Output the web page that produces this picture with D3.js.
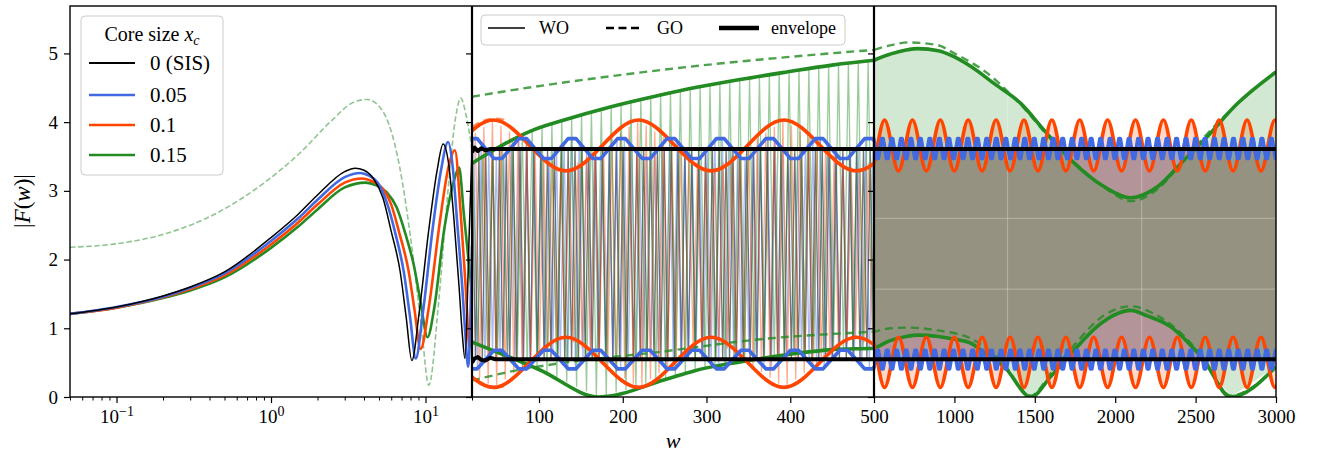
<!DOCTYPE html>
<html><head><meta charset="utf-8">
<script src="https://cdn.jsdelivr.net/npm/d3@7"></script>
<style>
body{margin:0;background:#fff}
text{font-family:"Liberation Serif","DejaVu Serif",serif;fill:#000}
</style>
</head><body><svg id="c" width="1317" height="458"></svg>
<script>
// ---------------- DATA ----------------
const seriesNames = ["0 (SIS)", "0.05", "0.1", "0.15"];
const seriesColors = ["#000000", "#4169e1", "#ff4500", "#228b22"];

// Panel 1 (log w, 0.05..20): wave-optics |F(w)| per core size
const wo0P1 = [[0.05,1.21],[0.1,1.31],[0.2,1.47],[0.3,1.60],[0.5,1.82],[1.0,2.32],[1.5,2.66],[2.0,2.94],[3.0,3.28],[3.5,3.33],[4.0,3.30],[4.6,3.18],[5.3,2.90],[6.0,2.41],[6.85,1.83],[7.5,1.16],[8.16,0.53],[9.08,1.21],[10.5,2.43],[11.9,3.30],[13.0,3.68],[14.2,3.35],[15.3,2.57],[16.5,1.60],[17.3,0.92],[18.0,0.56],[19.2,2.4],[20,3.6]];
const wo1P1 = [[0.05,1.21],[0.1,1.31],[0.2,1.46],[0.3,1.59],[0.5,1.80],[1.0,2.27],[1.5,2.60],[2.0,2.87],[3.0,3.20],[3.8,3.26],[4.3,3.22],[4.9,3.12],[5.6,2.84],[6.4,2.37],[7.25,1.81],[7.95,1.16],[8.65,0.56],[9.6,1.21],[11.1,2.43],[12.6,3.30],[14.0,3.71],[15.0,3.35],[16.0,2.57],[17.3,1.60],[18.1,0.92],[18.9,0.44],[20,2.2]];
const wo2P1 = [[0.05,1.21],[0.1,1.30],[0.2,1.45],[0.3,1.57],[0.5,1.77],[1.0,2.22],[1.5,2.54],[2.0,2.80],[3.0,3.12],[3.9,3.18],[4.5,3.14],[5.2,3.05],[6.0,2.80],[6.8,2.37],[7.75,1.85],[8.5,1.26],[9.3,0.70],[10.5,1.30],[12.3,2.50],[14.1,3.35],[15.5,3.59],[16.9,2.67],[18.2,1.60],[19.3,0.72],[20,0.9]];
const wo3P1 = [[0.05,1.21],[0.1,1.30],[0.2,1.44],[0.3,1.55],[0.5,1.74],[1.0,2.17],[1.5,2.48],[2.0,2.73],[3.0,3.05],[4.1,3.12],[4.8,3.08],[5.6,2.98],[6.5,2.76],[7.4,2.38],[8.4,1.92],[9.3,1.38],[10.3,0.87],[11.4,1.30],[13.2,2.43],[15.3,3.15],[16.5,3.34],[17.7,2.67],[18.9,2.04],[20,1.5]];
const go3P1 = [[0.05,2.18],[0.1,2.23],[0.21,2.38],[0.44,2.67],[0.92,3.13],[1.52,3.54],[2.49,4.03],[3.36,4.28],[4.2,4.33],[5.25,4.17],[6.8,3.35],[8.2,2.14],[9.5,0.92],[10.5,0.17],[12.2,1.41],[13.8,2.86],[15.7,4.08],[16.9,4.35],[18.2,4.13],[20,3.6]];

// Envelopes (w 20..3000)
const blackUpper = [[20,3.56],[23,3.63],[27,3.58],[31,3.62],[36,3.59],[42,3.61],[3000,3.61]];
const blackLower = [[20,0.50],[23,0.56],[27,0.58],[31,0.54],[36,0.53],[42,0.57],[48,0.55],[3000,0.55]];
const greenUpper = [[20,3.40],[40,3.55],[60,3.69],[90,3.87],[130,4.03],[185,4.22],[240,4.38],[290,4.51],[340,4.62],[396,4.73],[450,4.83],[500,4.90],[600,4.99],[700,5.05],[772,5.07],[900,5.04],[1000,4.95],[1103,4.81],[1248,4.56],[1414,4.27],[1559,3.88],[1725,3.45],[1932,3.06],[2097,2.90],[2263,3.06],[2429,3.45],[2553,3.74],[2760,4.27],[3000,4.73]];
const greenLower = [[20,0.80],[100,0.40],[172,0.0],[250,0.25],[285,0.38],[340,0.51],[404,0.63],[450,0.69],[500,0.71],[600,0.82],[700,0.88],[772,0.90],[900,0.88],[1000,0.84],[1103,0.78],[1200,0.62],[1310,0.44],[1476,0.0],[1600,0.30],[1725,0.63],[1900,1.05],[2000,1.20],[2097,1.26],[2200,1.18],[2346,1.02],[2450,0.80],[2553,0.53],[2718,0.0],[3000,0.44]];
const greenGOUpper = [[20,4.37],[60,4.45],[120,4.56],[200,4.69],[290,4.82],[400,4.95],[500,5.05],[607,5.12],[710,5.16],[896,5.12],[1000,5.0],[1200,4.72],[1414,4.25],[1600,3.75],[1800,3.30],[1950,3.02],[2097,2.85],[2250,3.0],[2429,3.45],[2600,3.90],[2800,4.35],[3000,4.73]];
const greenGOLower = [[20,0.24],[70,0.38],[130,0.50],[240,0.65],[364,0.84],[500,0.95],[607,1.0],[710,1.01],[896,0.97],[1103,0.85],[1300,0.50],[1476,0.02],[1600,0.35],[1725,0.70],[1932,1.19],[2097,1.32],[2250,1.2],[2400,0.95],[2553,0.55],[2718,0.02],[3000,0.44]];
const redGOUpper = [[20,3.93],[30,4.0],[40,4.04],[50,4.05],[60,4.03]];
const redGOLower = [[20,0.27],[30,0.20],[40,0.16],[50,0.14],[60,0.16]];
// periodic envelopes of 0.05 and 0.1: period, first maximum, [min,max] of upper, [min,max] of lower
const blueEnvPeriod = 59.0, blueEnvFirstPeak = 21.5, blueUpperRange = [3.47, 3.76], blueLowerRange = [0.41, 0.68];
const redEnvPeriod = 173.4, redEnvFirstPeak = 45.5, redUpperRange = [3.29, 4.03], redLowerRange = [0.14, 0.87];
// wave-optics oscillation period in w (panel 2), per series
const woPeriod = [8.2, 9.0, 10.2, 11.8];
const woPhase = [0, 2, 4, 1];

// axes
const yTicks = [0, 1, 2, 3, 4, 5];
const logTicks = [0.1, 1, 10];
const logTickExps = ["\u22121", "0", "1"];
const logMinor = [0.05,0.06,0.07,0.08,0.09,0.2,0.3,0.4,0.5,0.6,0.7,0.8,0.9,2,3,4,5,6,7,8,9,20];
const p2Ticks = [100, 200, 300, 400, 500];
const p3Ticks = [1000, 1500, 2000, 2500, 3000];
const p3GridW = [1331, 2165];
const p3GridV = [1.57, 2.60];

// ---------------- DRAWING ----------------
const svg = d3.select("#c");
svg.append("rect").attr("width",1317).attr("height",458).attr("fill","#fff");
const TOP = 6, BOT = 397;
const Y = d3.scaleLinear().domain([0, 5.69]).range([BOT, TOP]);
const X1 = d3.scaleLog().domain([0.05, 20]).range([70, 472]);
const X2 = d3.scaleLinear().domain([20, 500]).range([472, 874]);
const X3 = d3.scaleLinear().domain([500, 3000]).range([874, 1276]);

const defs = svg.append("defs");
[[1,X1],[2,X2],[3,X3]].forEach(([k,X]) => {
  const r = X.range();
  defs.append("clipPath").attr("id","cp"+k).append("rect")
    .attr("x", r[0]).attr("y", TOP).attr("width", r[1]-r[0]).attr("height", BOT-TOP);
});

const lineFor = (X, curve) => d3.line().x(d => X(d[0])).y(d => Y(d[1])).curve(curve || d3.curveMonotoneX);

function interp(pts, w) {
  const i = d3.bisector(d => d[0]).left(pts, w);
  if (i <= 0) return pts[0][1];
  if (i >= pts.length) return pts[pts.length-1][1];
  const a = pts[i-1], b = pts[i];
  return a[1] + (b[1]-a[1]) * (w - a[0]) / (b[0] - a[0]);
}

// periodic envelopes built from the read extrema
function blueEnv() {
  const up = [], lo = [], P = blueEnvPeriod, h = 0.08;
  for (let p = blueEnvFirstPeak - P; p < 3000 + P; p += P) {
    up.push([p-h*P, blueUpperRange[1]], [p+h*P, blueUpperRange[1]], [p+(0.5-h)*P, blueUpperRange[0]], [p+(0.5+h)*P, blueUpperRange[0]]);
    lo.push([p-h*P, blueLowerRange[0]], [p+h*P, blueLowerRange[0]], [p+(0.5-h)*P, blueLowerRange[1]], [p+(0.5+h)*P, blueLowerRange[1]]);
  }
  return {up, lo};
}
function redEnv() {
  const up = [], lo = [], P = redEnvPeriod;
  for (let p = redEnvFirstPeak - P; p < 3000 + P; p += P) {
    up.push([p, redUpperRange[1]], [p+0.5*P, redUpperRange[0]]);
    lo.push([p, redLowerRange[0]], [p+0.5*P, redLowerRange[1]]);
  }
  return {up, lo};
}
const env = [
  {up: blackUpper, lo: blackLower, curve: d3.curveLinear},
  Object.assign(blueEnv(), {curve: d3.curveLinear}),
  Object.assign(redEnv(), {curve: d3.curveMonotoneX}),
  {up: greenUpper, lo: greenLower, curve: d3.curveMonotoneX}
];

// ----- Panel 1 -----
const p1 = svg.append("g").attr("clip-path","url(#cp1)");
p1.append("path").attr("d", lineFor(X1)(go3P1)).attr("fill","none")
  .attr("stroke", seriesColors[3]).attr("stroke-opacity",0.5).attr("stroke-width",1.6).attr("stroke-dasharray","5.5,2.6");
const woP1 = [wo0P1, wo1P1, wo2P1, wo3P1];
[3,2,1,0].forEach(i => {
  p1.append("path").attr("d", lineFor(X1)(woP1[i])).attr("fill","none")
    .attr("stroke", seriesColors[i]).attr("stroke-width", i === 0 ? 1.5 : 2.6).attr("stroke-linejoin","round");
});

// ----- Panel 2 -----
const p2 = svg.append("g").attr("clip-path","url(#cp2)");
[0,1,2,3].forEach(i => {
  const P = woPeriod[i], pts = [];
  let k = 0;
  for (let w = 20 + woPhase[i]; w <= 500 + P; w += P/2, k++) {
    pts.push([w, k % 2 ? interp(env[i].lo, w) : interp(env[i].up, w)]);
  }
  p2.append("path").attr("d", lineFor(X2, d3.curveLinear)(pts)).attr("fill","none")
    .attr("stroke", seriesColors[i]).attr("stroke-opacity", i === 0 ? 0.55 : 0.45).attr("stroke-width",1.3);
});
function drawGO(g, X, data, color, op, w) {
  g.append("path").attr("d", lineFor(X)(data)).attr("fill","none").attr("stroke", color)
    .attr("stroke-opacity", op).attr("stroke-width", w).attr("stroke-dasharray","8,5");
}
drawGO(p2, X2, redGOUpper, seriesColors[2], 0.6, 2.2);
drawGO(p2, X2, redGOLower, seriesColors[2], 0.6, 2.2);
drawGO(p2, X2, greenGOUpper, seriesColors[3], 0.8, 2.4);
drawGO(p2, X2, greenGOLower, seriesColors[3], 0.8, 2.4);
function drawEnv(g, X) {
  [3,2,1,0].forEach(i => {
    [env[i].up, env[i].lo].forEach(d => {
      g.append("path").attr("d", lineFor(X, env[i].curve)(d)).attr("fill","none")
        .attr("stroke", seriesColors[i]).attr("stroke-width", i === 0 ? 4 : 3.6).attr("stroke-linejoin","round");
    });
  });
}
drawEnv(p2, X2);

// ----- Panel 3 -----
const p3 = svg.append("g").attr("clip-path","url(#cp3)");
const fillOp = [0.28, 0.2, 0.2, 0.2];
[0,1,2,3].forEach(i => {
  const e = env[i];
  let d;
  if (i === 1 || i === 2) {
    const comb = e.up.map((u, j) => [u[0], u[1], e.lo[j][1]]);
    d = d3.area().x(p => X3(p[0])).y0(p => Y(p[2])).y1(p => Y(p[1])).curve(e.curve)(comb);
  } else {
    d = lineFor(X3, d3.curveLinear)(e.up.concat(e.lo.slice().reverse())) + "Z";
  }
  p3.append("path").attr("d", d).attr("fill", seriesColors[i]).attr("fill-opacity", fillOp[i]).attr("stroke","none");
});
p3GridW.forEach(w => p3.append("line").attr("x1",X3(w)).attr("x2",X3(w)).attr("y1",TOP).attr("y2",BOT)
  .attr("stroke","#fff").attr("stroke-opacity",0.3).attr("stroke-width",1));
p3GridV.forEach(v => p3.append("line").attr("x1",874).attr("x2",1276).attr("y1",Y(v)).attr("y2",Y(v))
  .attr("stroke","#fff").attr("stroke-opacity",0.3).attr("stroke-width",1));
drawGO(p3, X3, greenGOUpper, seriesColors[3], 0.8, 2.4);
drawGO(p3, X3, greenGOLower, seriesColors[3], 0.8, 2.4);
drawEnv(p3, X3);

// ----- Axes -----
function styleAxis(g) {
  g.select(".domain").remove();
  g.selectAll(".tick line").attr("stroke","#000").attr("stroke-width",1.2);
  g.selectAll(".tick text").attr("font-size","19px").attr("fill","#000")
    .attr("font-family","'Liberation Serif','DejaVu Serif',serif");
}
// y axes
const ya = svg.append("g").attr("transform","translate(70,0)")
  .call(d3.axisLeft(Y).tickValues(yTicks).tickSize(6).tickPadding(6).tickFormat(d3.format("d")));
styleAxis(ya);
[472, 874].forEach(xp => {
  const g = svg.append("g").attr("transform",`translate(${xp},0)`)
    .call(d3.axisLeft(Y).tickValues(yTicks).tickSize(6).tickFormat(""));
  styleAxis(g);
});
// x axis panel 1 (log)
const xa1 = svg.append("g").attr("transform",`translate(0,${BOT})`)
  .call(d3.axisBottom(X1).tickValues(logTicks).tickSize(6).tickPadding(7).tickFormat(() => ""));
styleAxis(xa1);
xa1.selectAll(".tick text").each(function(d, i) {
  const t = d3.select(this);
  t.append("tspan").text("10");
  t.append("tspan").attr("dy","-0.5em").attr("font-size","14px").text(logTickExps[i]);
});
const xa1m = svg.append("g").attr("transform",`translate(0,${BOT})`)
  .call(d3.axisBottom(X1).tickValues(logMinor).tickSize(3.5).tickFormat(""));
styleAxis(xa1m);
xa1m.selectAll(".tick line").attr("stroke-width",1);
const xa2 = svg.append("g").attr("transform",`translate(0,${BOT})`)
  .call(d3.axisBottom(X2).tickValues(p2Ticks).tickSize(6).tickPadding(7).tickFormat(d3.format("d")));
styleAxis(xa2);
const xa3 = svg.append("g").attr("transform",`translate(0,${BOT})`)
  .call(d3.axisBottom(X3).tickValues(p3Ticks).tickSize(6).tickPadding(7).tickFormat(d3.format("d")));
styleAxis(xa3);

// frames
svg.append("rect").attr("x",70).attr("y",TOP).attr("width",1276-70).attr("height",BOT-TOP)
  .attr("fill","none").attr("stroke","#000").attr("stroke-width",1.4);
[472, 874].forEach(xp => svg.append("line").attr("x1",xp).attr("x2",xp).attr("y1",TOP).attr("y2",BOT)
  .attr("stroke","#000").attr("stroke-width",2.2));

// axis labels
const yl = svg.append("text").attr("transform","translate(30,201) rotate(-90)")
  .attr("text-anchor","middle").attr("font-size","23px");
yl.append("tspan").text("|");
yl.append("tspan").attr("font-style","italic").text("F");
yl.append("tspan").text("(");
yl.append("tspan").attr("font-style","italic").text("w");
yl.append("tspan").text(")|");
svg.append("text").attr("x",673).attr("y",448).attr("text-anchor","middle")
  .attr("font-size","22px").attr("font-style","italic").text("w");

// legend 1
const lg1 = svg.append("g");
lg1.append("rect").attr("x",81).attr("y",16).attr("width",142).attr("height",159).attr("rx",4)
  .attr("fill","#fff").attr("fill-opacity",0.8).attr("stroke","#cccccc").attr("stroke-width",1);
const tt = lg1.append("text").attr("x",152).attr("y",41).attr("text-anchor","middle").attr("font-size","20px");
tt.append("tspan").text("Core size ");
tt.append("tspan").attr("font-style","italic").text("x");
tt.append("tspan").attr("font-style","italic").attr("font-size","14px").attr("dy","4").text("c");
const legY = [63, 95, 125, 155];
seriesNames.forEach((n, i) => {
  lg1.append("line").attr("x1",89).attr("x2",135).attr("y1",legY[i]).attr("y2",legY[i])
    .attr("stroke", seriesColors[i]).attr("stroke-width", i === 0 ? 2.2 : 2.7);
  lg1.append("text").attr("x",150).attr("y",legY[i]+7).attr("font-size","21px").text(n);
});

// legend 2
const lg2 = svg.append("g");
lg2.append("rect").attr("x",481).attr("y",15).attr("width",364).attr("height",30).attr("rx",4)
  .attr("fill","#fff").attr("fill-opacity",0.8).attr("stroke","#cccccc").attr("stroke-width",1);
const styleNames = ["WO", "GO", "envelope"];
const styleX = [488, 606, 719];
const styleLen = [37, 37, 40];
const styleW = [1.4, 2.4, 4.5];
const styleDash = [null, "8,4.5", null];
const styleLabelX = [539, 657, 771];
styleNames.forEach((n, i) => {
  const l = lg2.append("line").attr("x1",styleX[i]).attr("x2",styleX[i]+styleLen[i]).attr("y1",28).attr("y2",28)
    .attr("stroke","#000").attr("stroke-width",styleW[i]);
  if (styleDash[i]) l.attr("stroke-dasharray", styleDash[i]);
  lg2.append("text").attr("x",styleLabelX[i]).attr("y",34).attr("font-size","18px").text(n);
});
</script>
</body></html>
